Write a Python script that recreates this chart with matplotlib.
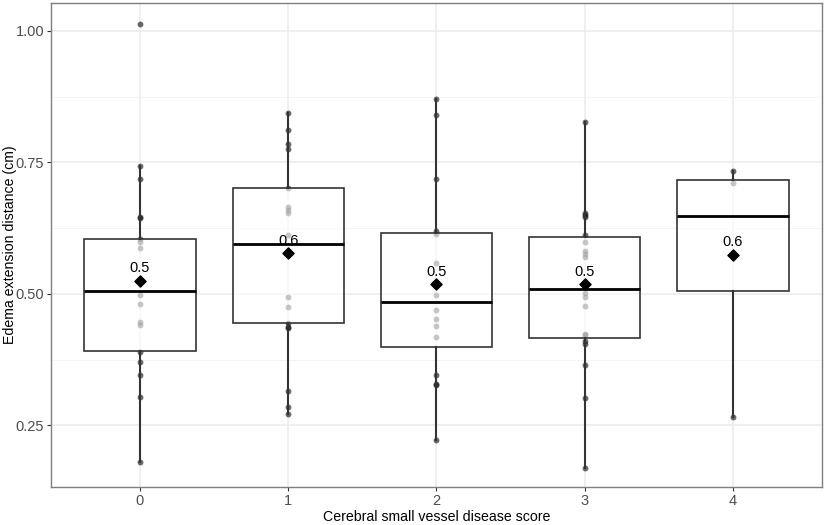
import matplotlib
matplotlib.use("Agg")
import matplotlib.pyplot as plt
import numpy as np

plt.rcParams['font.family'] = ['Liberation Sans', 'DejaVu Sans']

# csvd score groups
groups = ['0', '1', '2', '3', '4']

points = [
    [1.013, 0.743, 0.719, 0.646, 0.644, 0.605, 0.598, 0.588, 0.498, 0.480,
     0.447, 0.440, 0.389, 0.370, 0.345, 0.305, 0.180],
    [0.843, 0.811, 0.785, 0.776, 0.702, 0.666, 0.660, 0.653, 0.612, 0.495,
     0.475, 0.445, 0.438, 0.435, 0.316, 0.285, 0.271],
    [0.870, 0.840, 0.719, 0.620, 0.613, 0.558, 0.498, 0.470, 0.452, 0.439,
     0.419, 0.345, 0.329, 0.326, 0.222],
    [0.827, 0.653, 0.650, 0.646, 0.612, 0.599, 0.582, 0.576, 0.571, 0.502,
     0.495, 0.477, 0.424, 0.421, 0.411, 0.405, 0.365, 0.302, 0.169],
    [0.734, 0.710, 0.266],
]

# box statistics
q1 = [0.391, 0.444, 0.400, 0.417, 0.506]
median = [0.505, 0.594, 0.484, 0.509, 0.648]
q3 = [0.604, 0.702, 0.616, 0.608, 0.716]
whis_lo = [0.180, 0.271, 0.222, 0.169, 0.266]
whis_hi = [0.743, 0.843, 0.870, 0.827, 0.734]
means = [0.525, 0.577, 0.518, 0.518, 0.574]

fig = plt.figure(figsize=(8.29, 5.25), dpi=100)
ax = fig.add_axes([0.0615, 0.0724, 0.93, 0.9219])

pos = np.arange(len(groups))

# raw points first, box goes over them
for i, vals in enumerate(points):
    ax.scatter(np.full(len(vals), pos[i]), vals, s=18, color='black',
               alpha=0.58, linewidths=0, zorder=2)

stats = []
for i in range(len(groups)):
    stats.append(dict(q1=q1[i], med=median[i], q3=q3[i],
                      whislo=whis_lo[i], whishi=whis_hi[i], fliers=[]))

ax.bxp(stats, positions=pos, widths=0.75, patch_artist=True,
       showcaps=False, manage_ticks=False,
       boxprops=dict(facecolor=(1, 1, 1, 0.62), edgecolor='#333333', linewidth=1.2),
       whiskerprops=dict(color='#333333', linewidth=1.5),
       medianprops=dict(color='black', linewidth=2.0),
       zorder=3)

# means + labels
ax.scatter(pos, means, marker='D', s=32, color='black', zorder=5)
for i, m in enumerate(means):
    ax.annotate(f'{m:.1f}', (pos[i], m), xytext=(0, 9), textcoords='offset points',
                ha='center', va='center', fontsize=10.5, color='black', zorder=6)

ax.set_xlim(-0.6, 4.6)
ax.set_ylim(0.133, 1.053)
ax.set_xticks(pos)
ax.set_xticklabels(groups)
ax.set_yticks([0.25, 0.50, 0.75, 1.00])
ax.set_yticklabels(['0.25', '0.50', '0.75', '1.00'])
ax.set_yticks([0.375, 0.625, 0.875], minor=True)

ax.grid(True, which='major', color='#ebebeb', linewidth=1.1, zorder=0)
ax.grid(True, which='minor', axis='y', color='#f2f2f2', linewidth=0.6, zorder=0)
ax.set_axisbelow(True)

for s in ax.spines.values():
    s.set_color('#7f7f7f')
    s.set_linewidth(1.0)

ax.tick_params(axis='both', which='major', length=3, color='#333333',
               labelsize=10.5, labelcolor='#4d4d4d', pad=2)
ax.tick_params(axis='y', which='minor', length=0)

ax.set_xlabel('Cerebral small vessel disease score', fontsize=10.2, va='center')
ax.set_ylabel('Edema extension distance (cm)', fontsize=10.2, va='center')
ax.yaxis.set_label_coords(-0.0535, 0.5)
ax.xaxis.set_label_coords(0.5, -0.062)

fig.savefig('out.png', dpi=100)
